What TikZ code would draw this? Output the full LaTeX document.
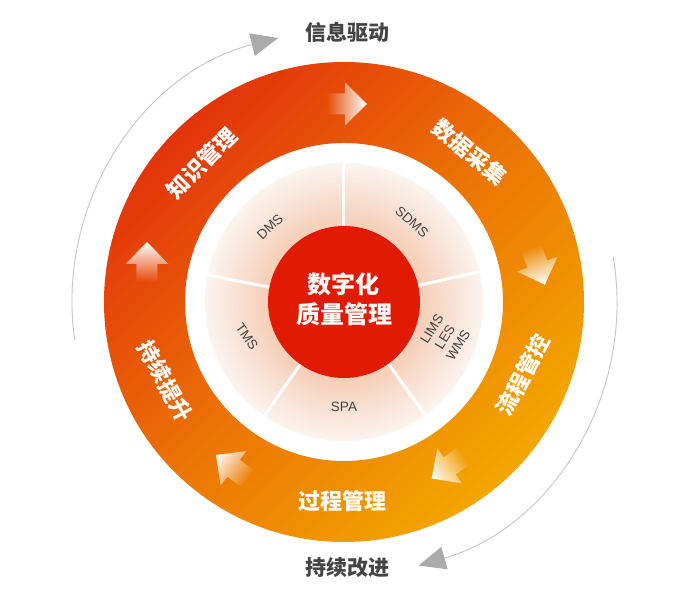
\documentclass[tikz,border=0pt]{standalone}
\usepackage{fontspec}
\newfontfamily\cjk{Noto Sans CJK SC}
\newfontfamily\lat{Liberation Sans}
\usetikzlibrary{arrows.meta,fadings}
\definecolor{ringA}{HTML}{E3330A}
\definecolor{ringM}{HTML}{EB7405}
\definecolor{ringB}{HTML}{F3A700}
\definecolor{discA}{HTML}{F5CDB6}
\definecolor{discB}{HTML}{FCF4EF}
\definecolor{core}{HTML}{E11A03}
\definecolor{txtgray}{HTML}{444444}
\definecolor{arcgray}{HTML}{C6C6C6}
\definecolor{tipgray}{HTML}{ABABAB}
\pgfdeclareradialshading{discshade}{\pgfpoint{0bp}{0bp}}{color(0bp)=(discA); color(13.5bp)=(discA); color(25bp)=(discB); color(50bp)=(discB)}
\tikzfading[name=arrowfade, left color=transparent!100, middle color=transparent!70, right color=transparent!0]
\newcommand\myringarrow[3]{%
  \begin{scope}[transform canvas={shift={(#1,#2)}, rotate=#3}]
    \fill[white, path fading=arrowfade]
      (-20,10.5) -- (-2,10.5) -- (-2,21.5) -- (20,0) -- (-2,-21.5) -- (-2,-10.5) -- (-20,-10.5) -- cycle;
  \end{scope}}
\begin{document}
\begin{tikzpicture}[x=1pt,y=1pt,
  ringlabel/.style={font=\cjk\bfseries\fontsize{22}{22}\selectfont, text=white, inner sep=0pt},
  innerlabel/.style={font=\lat\fontsize{13.5}{15.5}\selectfont, text=txtgray, inner sep=0pt, align=center},
  outerlabel/.style={font=\cjk\bfseries\fontsize{21}{21}\selectfont, text=txtgray, inner sep=0pt},
  corelabel/.style={font=\cjk\bfseries\fontsize{24}{24}\selectfont, text=white, inner sep=0pt},
  divider/.style={white, line width=3pt},
  cyclearc/.style={draw=arcgray, line width=0.9pt, -{Triangle[length=27pt,width=23pt,color=tipgray]}}
]
\useasboundingbox[fill=white] (-344,-291) rectangle (353,302);

% orange ring
\shade[even odd rule, top color=ringA, bottom color=ringB, middle color=ringM, shading angle=45]
  (0,0) circle (240) (0,0) circle (159);
% light disc
\shade[shading=discshade] (0,0) circle (139);
% dividers
\foreach \a in {90,12.6,-54.3,-125,168.8} \draw[divider] (\a:70) -- (\a:142);
% core
\node[circle, fill=core, minimum size=152pt, inner sep=0pt] (core) at (0,0) {};
\node[corelabel] (c1) at (0,18) {数字化};
\node[corelabel] (c2) at (1,-12) {质量管理};

% inner labels
\node[innerlabel, rotate=44] (dms) at (-74,75) {DMS};
\node[innerlabel, rotate=-42] (sdms) at (68,80) {SDMS};
\node[innerlabel, rotate=58] (lims) at (101,-35) {LIMS\\LES\\WMS};
\node[innerlabel, rotate=-55] (tms) at (-97,-35) {TMS};
\node[innerlabel] (spa) at (0,-105) {SPA};

% ring labels
\node[ringlabel, rotate=45] (zs) at (-142,139) {知识管理};
\node[ringlabel, rotate=-40] (sj) at (126,150) {数据采集};
\node[ringlabel, rotate=62] (lc) at (179,-73) {流程管控};
\node[ringlabel] (gc) at (-1,-199) {过程管理};
\node[ringlabel, rotate=-61] (cx) at (-179,-79) {持续提升};

% ring arrows
\myringarrow{3}{198}{0}
\myringarrow{194}{36}{-70}
\myringarrow{104}{-165}{-145}
\myringarrow{-112}{-165}{143}
\myringarrow{-197}{40}{90}

% outer cycle
\node[outerlabel] (xx) at (4,270) {信息驱动};
\node[outerlabel] (cg) at (4,-266) {持续改进};
\draw[cyclearc] (188:272) arc[start angle=188, end angle=104, radius=272];
\draw[cyclearc] (9.5:273) arc[start angle=9.5, end angle=-74, radius=274];
\end{tikzpicture}
\end{document}
